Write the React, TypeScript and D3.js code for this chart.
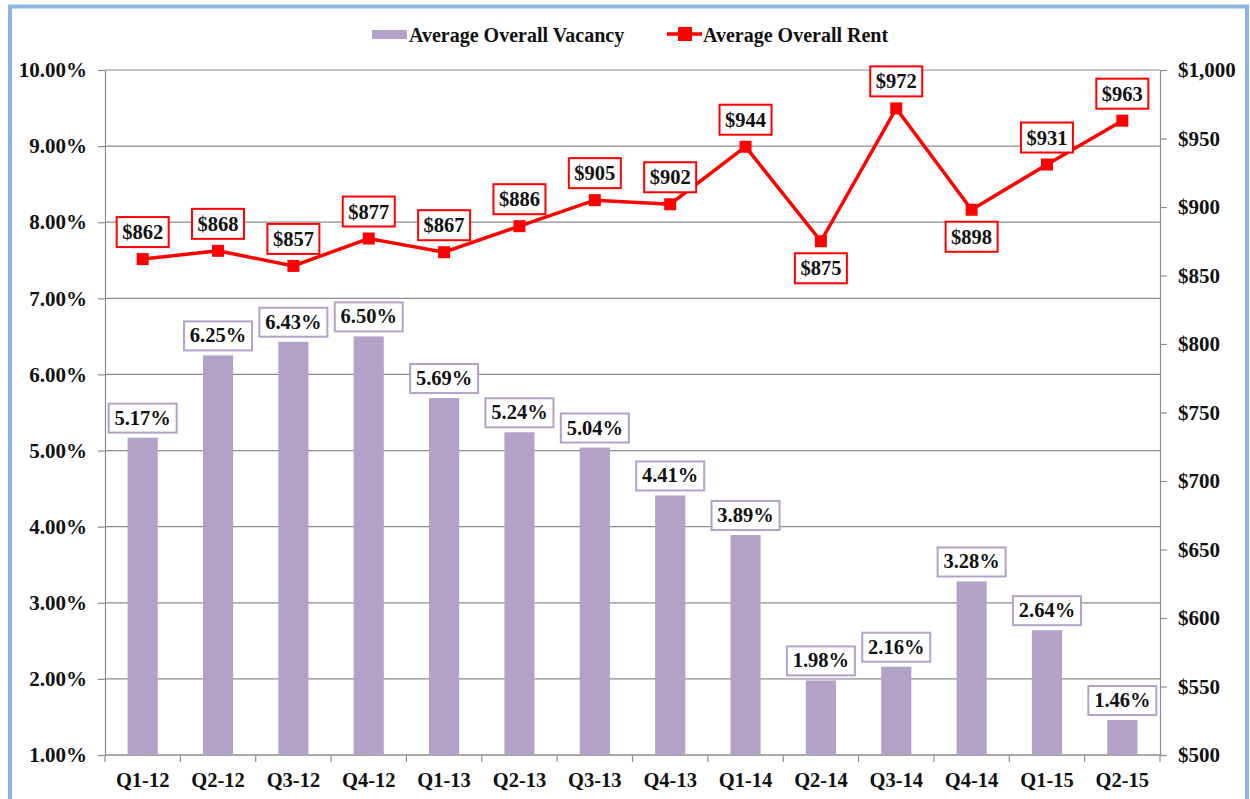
import { useEffect, useRef } from 'react';
import * as d3 from 'd3';

const quarters = ['Q1-12', 'Q2-12', 'Q3-12', 'Q4-12', 'Q1-13', 'Q2-13', 'Q3-13', 'Q4-13', 'Q1-14', 'Q2-14', 'Q3-14', 'Q4-14', 'Q1-15', 'Q2-15'];
const vacancy = [5.17, 6.25, 6.43, 6.5, 5.69, 5.24, 5.04, 4.41, 3.89, 1.98, 2.16, 3.28, 2.64, 1.46];
const rent = [862, 868, 857, 877, 867, 886, 905, 902, 944, 875, 972, 898, 931, 963];
// rent labels drawn below the point instead of above
const rentBelow = ['Q2-14', 'Q4-14'];
const vacancyTicks = [1, 2, 3, 4, 5, 6, 7, 8, 9, 10];
const rentTicks = [500, 550, 600, 650, 700, 750, 800, 850, 900, 950, 1000];

const PURPLE = '#b3a2c7';
const RED = '#ff0000';
const FONT = '"Liberation Serif", "Times New Roman", serif';

export default function App() {
  const svgRef = useRef<SVGSVGElement>(null);

  useEffect(() => {
    if (!svgRef.current) return;
    const svg = d3.select(svgRef.current);
    svg.selectAll('*').remove();

    const width = 1250;
    const height = 799;
    const margin = { top: 70, right: 90, bottom: 44, left: 105 };
    const innerWidth = width - margin.left - margin.right;
    const innerHeight = height - margin.top - margin.bottom;

    svg.append('rect')
      .attr('width', width).attr('height', height).attr('fill', '#fff');

    // outer frame
    svg.append('rect')
      .attr('x', 10).attr('y', 6.5)
      .attr('width', 1237).attr('height', 820)
      .attr('fill', 'none')
      .attr('stroke', '#8db4e2')
      .attr('stroke-width', 4);

    const g = svg.append('g')
      .attr('transform', `translate(${margin.left},${margin.top})`);

    const x = d3.scaleBand().domain(quarters).range([0, innerWidth]);
    const yL = d3.scaleLinear().domain([1, 10]).range([innerHeight, 0]);
    const yR = d3.scaleLinear().domain([500, 1000]).range([innerHeight, 0]);

    // gridlines
    g.append('g')
      .selectAll('line')
      .data(vacancyTicks)
      .join('line')
      .attr('x1', 0).attr('x2', innerWidth)
      .attr('y1', d => yL(d)).attr('y2', d => yL(d))
      .attr('stroke', '#8c8c8c')
      .attr('stroke-width', 1.2);

    const styleAxis = (sel: d3.Selection<SVGGElement, unknown, null, undefined>) => {
      sel.select('.domain').attr('stroke', '#8c8c8c').attr('stroke-width', 1.2);
      sel.selectAll('.tick line').attr('stroke', '#8c8c8c').attr('stroke-width', 1.2);
      sel.selectAll('text')
        .style('font-family', FONT)
        .style('font-weight', 'bold')
        .style('font-size', '21px')
        .attr('fill', '#111');
    };

    // left axis
    const left = g.append('g')
      .call(d3.axisLeft(yL).tickValues(vacancyTicks).tickSize(7).tickSizeOuter(0).tickPadding(11).tickFormat(d => `${(d as number).toFixed(2)}%`));
    styleAxis(left);

    // right axis
    const right = g.append('g')
      .attr('transform', `translate(${innerWidth},0)`)
      .call(d3.axisRight(yR).tickValues(rentTicks).tickSize(7).tickSizeOuter(0).tickPadding(11).tickFormat(d => d3.format('$,')(d as number)));
    styleAxis(right);

    // bottom axis with ticks at band boundaries
    const bottom = g.append('g').attr('transform', `translate(0,${innerHeight})`);
    bottom.append('line')
      .attr('x1', 0).attr('x2', innerWidth)
      .attr('stroke', '#8c8c8c').attr('stroke-width', 1.2);
    bottom.selectAll('line.tk')
      .data(quarters)
      .join('line')
      .attr('class', 'tk')
      .attr('x1', d => x(d)!).attr('x2', d => x(d)!)
      .attr('y1', 0).attr('y2', 7)
      .attr('stroke', '#8c8c8c').attr('stroke-width', 1.2);
    bottom.append('line')
      .attr('x1', innerWidth).attr('x2', innerWidth).attr('y1', 0).attr('y2', 7)
      .attr('stroke', '#8c8c8c').attr('stroke-width', 1.2);
    bottom.selectAll('text')
      .data(quarters)
      .join('text')
      .attr('x', d => x(d)! + x.bandwidth() / 2)
      .attr('y', 32)
      .attr('text-anchor', 'middle')
      .style('font-family', FONT)
      .style('font-weight', 'bold')
      .style('font-size', '20.5px')
      .attr('fill', '#111')
      .text(d => d);

    // bars
    const barW = x.bandwidth() * 0.4;
    g.append('g')
      .selectAll('rect')
      .data(quarters)
      .join('rect')
      .attr('x', d => x(d)! + (x.bandwidth() - barW) / 2)
      .attr('y', (_, i) => yL(vacancy[i]))
      .attr('width', barW)
      .attr('height', (_, i) => innerHeight - yL(vacancy[i]))
      .attr('fill', PURPLE);

    // bar labels
    const barLabels = g.append('g')
      .selectAll('g')
      .data(quarters)
      .join('g')
      .attr('transform', (d, i) => `translate(${x(d)! + x.bandwidth() / 2},${yL(vacancy[i]) - 20})`);
    barLabels.append('rect')
      .attr('x', -34).attr('y', -14).attr('width', 68).attr('height', 29)
      .attr('fill', '#fff').attr('stroke', PURPLE).attr('stroke-width', 2);
    barLabels.append('text')
      .attr('text-anchor', 'middle')
      .attr('y', 7)
      .style('font-family', FONT)
      .style('font-weight', 'bold')
      .style('font-size', '20.5px')
      .attr('fill', '#111')
      .text((_, i) => `${vacancy[i].toFixed(2)}%`);

    // rent line
    const cx = (d: string) => x(d)! + x.bandwidth() / 2;
    const line = d3.line<string>()
      .x(d => cx(d))
      .y((_, i) => yR(rent[i]));
    g.append('path')
      .datum(quarters)
      .attr('fill', 'none')
      .attr('stroke', RED)
      .attr('stroke-width', 3.5)
      .attr('d', line);
    g.append('g')
      .selectAll('rect')
      .data(quarters)
      .join('rect')
      .attr('x', d => cx(d) - 6)
      .attr('y', (_, i) => yR(rent[i]) - 6)
      .attr('width', 12).attr('height', 12)
      .attr('fill', RED);

    // rent labels
    const rentLabels = g.append('g')
      .selectAll('g')
      .data(quarters)
      .join('g')
      .attr('transform', (d, i) => `translate(${cx(d)},${yR(rent[i]) + (rentBelow.includes(d) ? 27 : -27)})`);
    rentLabels.append('rect')
      .attr('x', -26).attr('y', -15).attr('width', 52).attr('height', 30)
      .attr('fill', '#fff').attr('stroke', RED).attr('stroke-width', 2);
    rentLabels.append('text')
      .attr('text-anchor', 'middle')
      .attr('y', 7)
      .style('font-family', FONT)
      .style('font-weight', 'bold')
      .style('font-size', '20.5px')
      .attr('fill', '#111')
      .text((_, i) => `$${rent[i]}`);

    // legend
    const legend = svg.append('g');
    legend.append('rect')
      .attr('x', 372).attr('y', 30).attr('width', 35).attr('height', 9)
      .attr('fill', PURPLE);
    legend.append('text')
      .attr('x', 409).attr('y', 42)
      .style('font-family', FONT).style('font-weight', 'bold').style('font-size', '20px')
      .attr('fill', '#111')
      .text('Average Overall Vacancy');
    legend.append('line')
      .attr('x1', 667).attr('x2', 702).attr('y1', 34).attr('y2', 34)
      .attr('stroke', RED).attr('stroke-width', 3.5);
    legend.append('rect')
      .attr('x', 678).attr('y', 27).attr('width', 14).attr('height', 14)
      .attr('fill', RED);
    legend.append('text')
      .attr('x', 703).attr('y', 42)
      .style('font-family', FONT).style('font-weight', 'bold').style('font-size', '20px')
      .attr('fill', '#111')
      .text('Average Overall Rent');
  }, []);

  return (
    <svg ref={svgRef} width={1250} height={799} style={{ position: 'absolute', left: 0, top: 0 }} />
  );
}
